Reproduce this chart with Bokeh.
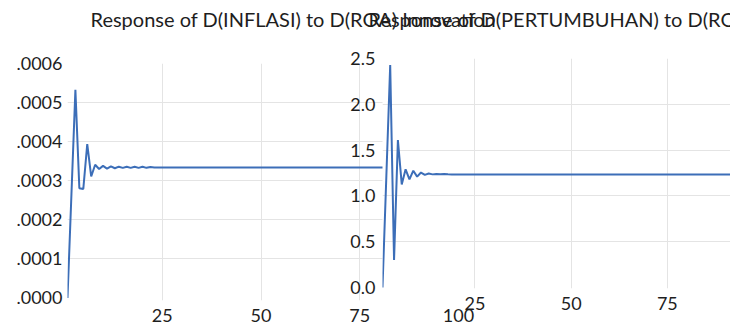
from bokeh.plotting import figure
from bokeh.layouts import row
from bokeh.models import Range1d, FixedTicker, CustomJSTickFormatter, PrintfTickFormatter
from bokeh.embed import file_html
from bokeh.resources import INLINE

# ---------------- data ----------------
periods = list(range(1, 101))

inflasi_response = [
    0.0, 0.000266, 0.000533, 0.000281, 0.000279, 0.000394, 0.000311, 0.000341, 0.000330, 0.000338,
    0.000331, 0.000337, 0.000332, 0.000336, 0.000333, 0.000336, 0.000333, 0.000336, 0.000333, 0.000336,
    0.000333, 0.000335, 0.000334, 0.000334, 0.000334, 0.000334, 0.000334, 0.000334, 0.000334, 0.000334,
    0.000334, 0.000334, 0.000334, 0.000334, 0.000334, 0.000334, 0.000334, 0.000334, 0.000334, 0.000334,
    0.000334, 0.000334, 0.000334, 0.000334, 0.000334, 0.000334, 0.000334, 0.000334, 0.000334, 0.000334,
    0.000334, 0.000334, 0.000334, 0.000334, 0.000334, 0.000334, 0.000334, 0.000334, 0.000334, 0.000334,
    0.000334, 0.000334, 0.000334, 0.000334, 0.000334, 0.000334, 0.000334, 0.000334, 0.000334, 0.000334,
    0.000334, 0.000334, 0.000334, 0.000334, 0.000334, 0.000334, 0.000334, 0.000334, 0.000334, 0.000334,
    0.000334, 0.000334, 0.000334, 0.000334, 0.000334, 0.000334, 0.000334, 0.000334, 0.000334, 0.000334,
    0.000334, 0.000334, 0.000334, 0.000334, 0.000334, 0.000334, 0.000334, 0.000334, 0.000334, 0.000334,
]

pertumbuhan_response = [
    0.0, 1.215, 2.43, 0.30, 1.61, 1.125, 1.29, 1.18, 1.275, 1.21,
    1.255, 1.23, 1.245, 1.235, 1.240, 1.236, 1.238, 1.235, 1.234, 1.234,
    1.234, 1.234, 1.234, 1.234, 1.234, 1.234, 1.234, 1.234, 1.234, 1.234,
    1.234, 1.234, 1.234, 1.234, 1.234, 1.234, 1.234, 1.234, 1.234, 1.234,
    1.234, 1.234, 1.234, 1.234, 1.234, 1.234, 1.234, 1.234, 1.234, 1.234,
    1.234, 1.234, 1.234, 1.234, 1.234, 1.234, 1.234, 1.234, 1.234, 1.234,
    1.234, 1.234, 1.234, 1.234, 1.234, 1.234, 1.234, 1.234, 1.234, 1.234,
    1.234, 1.234, 1.234, 1.234, 1.234, 1.234, 1.234, 1.234, 1.234, 1.234,
    1.234, 1.234, 1.234, 1.234, 1.234, 1.234, 1.234, 1.234, 1.234, 1.234,
    1.234, 1.234, 1.234, 1.234, 1.234, 1.234, 1.234, 1.234, 1.234, 1.234,
]

x_ticks = [25, 50, 75, 100]
inflasi_ticks = [0.0, 0.0001, 0.0002, 0.0003, 0.0004, 0.0005, 0.0006]
inflasi_grid = [0.0001, 0.0002, 0.0003, 0.0004, 0.0005]
pertumbuhan_ticks = [0.0, 0.5, 1.0, 1.5, 2.0, 2.5]
pertumbuhan_grid = [0.5, 1.0, 1.5, 2.0]

title_left = "Response of D(INFLASI) to D(ROA) Innovation"
title_right = "Response of D(PERTUMBUHAN) to D(ROA) Innovation"

# ---------------- style ----------------
FONT = "Lato"
BLUE = "#3c6eb8"
GRID = "#e4e4e4"
TXT = "#1e1e1e"
TICK_SIZE = "18px"
TITLE_SIZE = "20px"
TOP = 163     # common top border (Bokeh aligns borders of plots in a row)
BOTTOM = 39   # common bottom border


def style(p, yticks, ygrid, yfmt, title_offset, title_standoff):
    t = p.title
    t.text_font = FONT
    t.text_font_size = TITLE_SIZE
    t.text_font_style = "normal"
    t.text_color = TXT
    t.align = "left"
    t.offset = title_offset
    t.standoff = title_standoff
    p.outline_line_color = None
    for ax in (p.xaxis[0], p.yaxis[0]):
        ax.axis_line_color = None
        ax.major_tick_line_color = None
        ax.minor_tick_line_color = None
        ax.major_tick_out = 0
        ax.major_tick_in = 0
        ax.major_label_text_font = FONT
        ax.major_label_text_font_size = TICK_SIZE
        ax.major_label_text_color = TXT
    p.xaxis.ticker = FixedTicker(ticks=x_ticks)
    p.xaxis.major_label_standoff = 8
    p.yaxis.ticker = FixedTicker(ticks=yticks)
    p.yaxis.formatter = yfmt
    p.xgrid.ticker = FixedTicker(ticks=x_ticks)
    p.ygrid.ticker = FixedTicker(ticks=ygrid)
    for g in (p.xgrid[0], p.ygrid[0]):
        g.grid_line_color = GRID
        g.grid_line_width = 1


# left panel: plot area x 67..458, y 63..300 on the page
lift1 = TOP - 63
p1 = figure(width=520, height=300 + lift1 + BOTTOM, output_backend="svg", toolbar_location=None,
            x_range=Range1d(1, 100), y_range=Range1d(-0.0000064, 0.0006),
            min_border_left=67, min_border_right=62, min_border_top=TOP, min_border_bottom=BOTTOM,
            title=title_left)
p1.margin = (-lift1, 0, 327 - (300 + BOTTOM), 0)
style(p1, inflasi_ticks, inflasi_grid,
      CustomJSTickFormatter(code="return tick.toFixed(4).replace(/^0/, '');"), 23, 66)
p1.yaxis.major_label_standoff = 5
p1.line(periods, inflasi_response, line_color=BLUE, line_width=2)

# right panel: plot area x 382..730, y 58..288 on the page
lift2 = TOP - 58
p2 = figure(width=400, height=288 + lift2 + BOTTOM, output_backend="svg", toolbar_location=None,
            x_range=Range1d(1, 91.4), y_range=Range1d(-0.011, 2.5),
            min_border_left=52, min_border_right=0, min_border_top=TOP, min_border_bottom=BOTTOM,
            title=title_right)
p2.margin = (-lift2, 0, 327 - (288 + BOTTOM), -190)
style(p2, pertumbuhan_ticks, pertumbuhan_grid,
      PrintfTickFormatter(format="%.1f"), -14, 56)
p2.yaxis.major_label_standoff = 7
p2.border_fill_alpha = 0
p2.background_fill_color = "white"
p2.line(periods, pertumbuhan_response, line_color=BLUE, line_width=2)

layout = row(p1, p2)
layout.spacing = 0
layout.styles = {"overflow": "hidden"}

open("out.html", "w").write(file_html(layout, INLINE))
